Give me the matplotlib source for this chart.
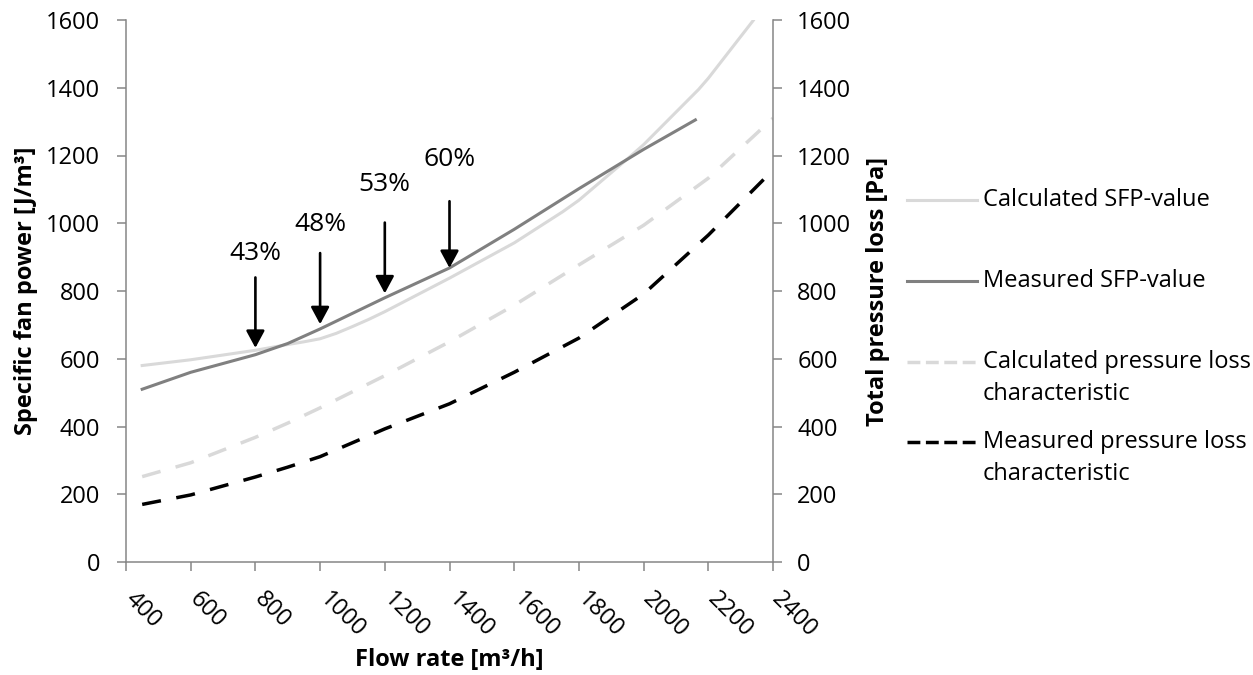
import numpy as np
import matplotlib
matplotlib.use("Agg")
import matplotlib.pyplot as plt
from matplotlib.lines import Line2D
from matplotlib.transforms import ScaledTranslation

plt.rcParams['font.family'] = ['Open Sans', 'DejaVu Sans']

# --- data ---
x_calc_sfp = [450, 600, 800, 900, 950, 1000, 1050, 1100, 1150, 1200, 1400, 1600, 1750, 1800,
              1950, 2000, 2170, 2200, 2340, 2400]
calc_sfp = [580, 597, 625, 642, 650, 659, 675, 695, 716, 739, 838, 942, 1034, 1068,
            1190, 1232, 1395, 1428, 1600, 1690]

x_meas_sfp = [450, 600, 800, 900, 1000, 1200, 1400, 1600, 1800, 2000, 2160]
meas_sfp = [510, 560, 612, 645, 688, 780, 868, 982, 1102, 1218, 1305]

x_press = [450, 600, 800, 900, 1000, 1200, 1400, 1600, 1800, 2000, 2200, 2400]
calc_press = [252, 293, 368, 410, 455, 550, 650, 758, 877, 994, 1133, 1310]
meas_press = [170, 198, 251, 280, 311, 393, 467, 560, 661, 791, 965, 1157]

arrow_x = [800, 1000, 1200, 1400]
arrow_top = [840, 912, 1002, 1065]
arrow_tip = [632, 702, 793, 868]
arrow_labels = ['43%', '48%', '53%', '60%']
label_y = [912, 995, 1113, 1189]

legend_labels = ['Calculated SFP-value', 'Measured SFP-value',
                 'Calculated pressure loss\ncharacteristic',
                 'Measured pressure loss\ncharacteristic']

FS = 17
SPINE = '#868686'
LIGHT = '#d9d9d9'
MID = '#808080'

fig = plt.figure(figsize=(12.53, 6.75), dpi=100)
ax = fig.add_axes([126 / 1253, 113 / 675, 647 / 1253, 542 / 675])
ax2 = ax.twinx()

l1, = ax.plot(x_calc_sfp, calc_sfp, color=LIGHT, lw=2.2)
l2, = ax.plot(x_meas_sfp, meas_sfp, color=MID, lw=2.2)
l3, = ax2.plot(x_press, calc_press, color=LIGHT, lw=2.5, linestyle=(0, (5.5, 4.5)))
l4, = ax2.plot(x_press, meas_press, color='black', lw=2.5, linestyle=(0, (5.5, 4.5)))

for xa, yt, yp, lab, ly in zip(arrow_x, arrow_top, arrow_tip, arrow_labels, label_y):
    ax.annotate('', xy=(xa, yp), xytext=(xa, yt),
                arrowprops=dict(arrowstyle='-|>,head_length=0.52,head_width=0.28',
                                lw=1.9, color='black', shrinkA=0, shrinkB=0,
                                mutation_scale=20))
    ax.text(xa, ly, lab, ha='center', va='center', fontsize=19)

for a in (ax, ax2):
    a.set_xlim(400, 2400)
    a.set_ylim(0, 1600)
    a.spines['top'].set_visible(False)
    for s in ('left', 'right', 'bottom'):
        a.spines[s].set_color(SPINE)
        a.spines[s].set_linewidth(1.1)
    a.tick_params(colors=SPINE, labelcolor='black', labelsize=FS, length=6.5, width=1.1)

ax.spines['right'].set_visible(False)
ax2.spines['left'].set_visible(False)
ax2.spines['bottom'].set_visible(False)

ax.set_yticks(np.arange(0, 1601, 200))
ax2.set_yticks(np.arange(0, 1601, 200))
ax.set_xticks(np.arange(400, 2401, 200))
ax.tick_params(axis='y', pad=12)
ax2.tick_params(axis='y', pad=11)
ax.tick_params(axis='x', pad=12)
for t in ax.get_xticklabels():
    t.set_rotation(-45)
    t.set_ha('left')
    t.set_va('top')
    t.set_transform(t.get_transform() + ScaledTranslation(-6 / 100, 0, fig.dpi_scale_trans))

ax.set_xlabel('Flow rate [m³/h]', fontsize=FS, fontweight='bold', va='center')
ax.xaxis.set_label_coords(0.5, -0.181)
ax.set_ylabel('Specific fan power [J/m³]', fontsize=FS, fontweight='bold', va='center')
ax.yaxis.set_label_coords(-0.155, 0.5)
ax2.set_ylabel('Total pressure loss [Pa]', fontsize=FS, fontweight='bold', va='center')
ax2.yaxis.set_label_coords(1.162, 0.5)

# legend drawn by hand so the handle sits on the first text line
row_px = [200, 281, 362, 442]
for line, lab, ry in zip([l1, l2, l3, l4], legend_labels, row_px):
    yf = 1 - ry / 675
    fig.add_artist(Line2D([907 / 1253, 977 / 1253], [yf, yf], color=line.get_color(),
                          lw=line.get_linewidth(), linestyle=line.get_linestyle(),
                          transform=fig.transFigure))
    for k, part in enumerate(lab.split('\n')):
        fig.text(983 / 1253, 1 - (ry + 32 * k) / 675, part, fontsize=FS, va='center', ha='left')

fig.savefig('out.png', dpi=100)
